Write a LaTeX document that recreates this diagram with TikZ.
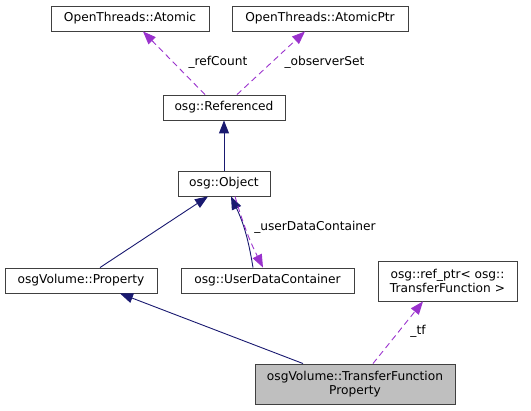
\documentclass[tikz,border=0pt]{standalone}
\usepackage{fontspec}
\setmainfont{DejaVu Sans}
\usepackage{tikz}
\usetikzlibrary{arrows.meta}
\definecolor{inhblue}{HTML}{191970}
\definecolor{usepurple}{HTML}{9A32CD}
\definecolor{boxgray}{HTML}{BFBFBF}
\definecolor{boxline}{HTML}{404040}
\tikzset{
  classbox/.style={draw=boxline,line width=0.9pt,fill=white,inner sep=0pt,
    minimum height=25pt,align=center,font=\fontsize{12.2}{14.2}\selectfont},
  inherit/.style={inhblue,line width=0.9pt,-{Triangle[length=13pt,width=10pt]}},
  uses/.style={usepurple,line width=0.9pt,dash pattern=on 6pt off 4pt,
    -{Triangle[length=13pt,width=10pt]}},
  edgelabel/.style={font=\fontsize{12.2}{14.2}\selectfont}
}

\begin{document}
\begin{tikzpicture}[x=1pt,y=-1pt]
      \useasboundingbox (0,0) rectangle (531,411);
      \node[classbox,minimum width=158pt] (atomic) at (130,18.5) {OpenThreads::Atomic};
      \node[classbox,minimum width=176pt] (atomicptr) at (320,18.5) {OpenThreads::AtomicPtr};
      \node[classbox,minimum width=122pt] (referenced) at (224,107.5) {osg::Referenced};
      \node[classbox,minimum width=92pt] (object) at (224,183.5) {osg::Object};
      \node[classbox,minimum width=152pt] (property) at (81,280.5) {osgVolume::Property};
      \node[classbox,minimum width=173pt] (udc) at (267.5,280.5) {osg::UserDataContainer};
      \node[classbox,minimum width=139pt,minimum height=40pt] (refptr) at (447.5,281)
        {osg::ref\_ptr< osg::\\TransferFunction >};
      \node[classbox,fill=boxgray,minimum width=200pt,minimum height=40pt] (tfp) at (355,384)
        {osgVolume::TransferFunction\\Property};

      \draw[uses] ([xshift=-19pt]referenced.north) -- ([xshift=13pt]atomic.south);
      \node[edgelabel] at (218,62) {\_refCount};
      \draw[uses] ([xshift=13pt]referenced.north) -- ([xshift=-15pt]atomicptr.south);
      \node[edgelabel] at (324.5,62) {\_observerSet};

      \draw[inherit] (object.north) -- (referenced.south);
      \draw[inherit] ([xshift=19pt]property.north) -- ([xshift=-16pt]object.south);
      \draw[inherit] ([xshift=-14.5pt]udc.north) to[bend right=8] ([xshift=7pt]object.south);
      \draw[uses] ([xshift=11pt]object.south) to[bend right=5] ([xshift=-4.5pt]udc.north);
      \node[edgelabel] at (315,227.7) {\_userDataContainer};

      \draw[inherit] ([xshift=-52pt]tfp.north) -- ([xshift=39pt]property.south);
      \draw[uses] ([xshift=18pt]tfp.north) -- ([xshift=-24.5pt]refptr.south);
      \node[edgelabel] at (418,331.7) {\_tf};
\end{tikzpicture}
\end{document}
